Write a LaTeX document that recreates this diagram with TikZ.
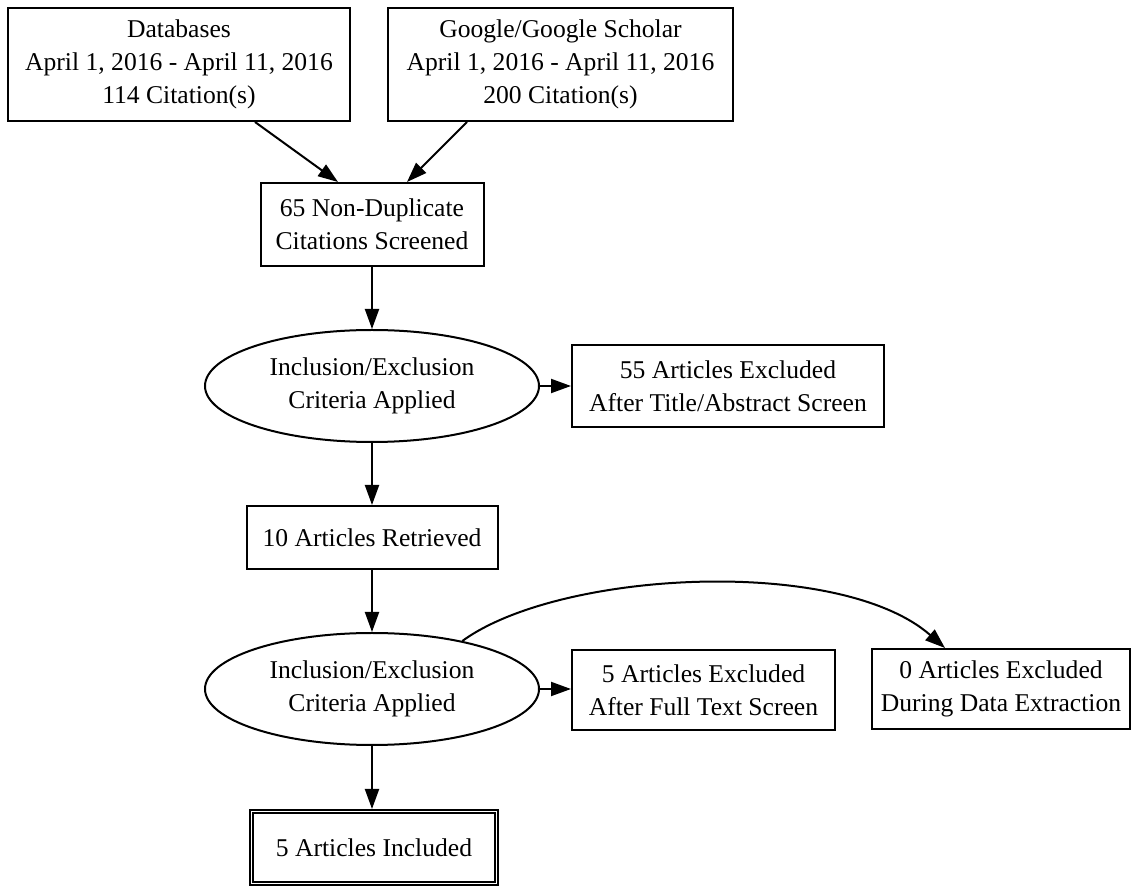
\documentclass[tikz,border=0pt]{standalone}
\usepackage{fontspec}
\setmainfont{Liberation Serif}
\usetikzlibrary{arrows.meta,shapes.geometric}
\tikzset{
  box/.style={draw, rectangle, line width=1pt, inner sep=0pt, align=center,
    font=\fontsize{12.8}{16.5}\selectfont},
  oval/.style={draw, ellipse, line width=1pt, inner sep=0pt, align=center,
    minimum width=167pt, minimum height=56pt,
    font=\fontsize{12.8}{16.5}\selectfont},
  arr/.style={line width=1pt, -{Triangle[length=10pt,width=7pt]}}
}
\begin{document}
\begin{tikzpicture}[x=0.5pt,y=-0.5pt]
\useasboundingbox[fill=white] (0,0) rectangle (1137,887);
\node[box, minimum width=171pt, minimum height=56.5pt] (db) at (179,64.5)
  {Databases\\April 1, 2016 - April 11, 2016\\114 Citation(s)};
\node[box, minimum width=172.5pt, minimum height=56.5pt] (gg) at (560.5,64.5)
  {Google/Google Scholar\\April 1, 2016 - April 11, 2016\\200 Citation(s)};
\node[box, minimum width=111.5pt, minimum height=41.5pt] (nd) at (372,224.5)
  {65 Non-Duplicate\\Citations Screened};
\node[oval] (e1) at (372,386) {Inclusion/Exclusion\\Criteria Applied};
\node[box, minimum width=156pt, minimum height=41pt] (ex1) at (728,386)
  {55 Articles Excluded\\After Title/Abstract Screen};
\node[box, minimum width=125.5pt, minimum height=31.5pt] (ar) at (372,537.5)
  {10 Articles Retrieved};
\node[oval] (e2) at (372,689) {Inclusion/Exclusion\\Criteria Applied};
\node[box, minimum width=131.5pt, minimum height=40pt] (ex2) at (703.5,690)
  {5 Articles Excluded\\After Full Text Screen};
\node[box, minimum width=129pt, minimum height=40pt] (ex3) at (1001,689)
  {0 Articles Excluded\\During Data Extraction};
\node[box, minimum width=124pt, minimum height=37.5pt] (inc) at (374,847.5)
  {5 Articles Included};
\draw[line width=1pt] ([shift={(2.2pt,-2.2pt)}]inc.north west) rectangle ([shift={(-2.2pt,2.2pt)}]inc.south east);

\draw[arr] ([xshift=38pt]db.south) -- ([xshift=-17pt]nd.north);
\draw[arr] ([xshift=-46.75pt]gg.south) -- ([xshift=17.5pt]nd.north);
\draw[arr] (nd.south) -- (e1.north);
\draw[arr] (e1.east) -- (ex1.west);
\draw[arr] (e1.south) -- (e1.south |- ar.north);
\draw[arr] (ar.south -| e2.north) -- (e2.north);
\draw[arr] (e2.east) -- (e2.east -| ex2.west);
\draw[arr] (e2.south) -- (e2.south |- inc.north);
\draw[arr] (e2.28) .. controls (560,570) and (840,556) .. ([xshift=-28pt]ex3.north);
\end{tikzpicture}
\end{document}
